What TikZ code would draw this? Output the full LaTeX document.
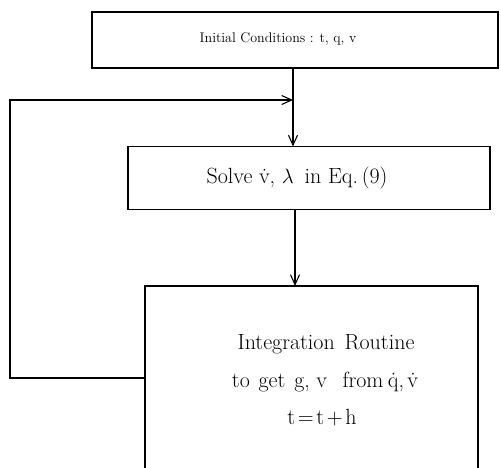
\documentclass[tikz,border=0pt]{standalone}
\usetikzlibrary{arrows.meta}
\begin{document}
\begin{tikzpicture}[x=1pt,y=-1pt,
  box/.style={draw,line width=1.3pt,inner sep=0pt,outer sep=0pt},
  lbls/.style={inner sep=0pt,font=\fontsize{14}{16}\selectfont},
  lbl/.style={inner sep=0pt,font=\fontsize{22}{26}\selectfont},
  conn/.style={line width=1.1pt},
  arr/.style={conn,-{Straight Barb[length=10pt,width=9pt,line width=1.1pt]}}]
\useasboundingbox (0,0) rectangle (501,467);
\clip (0,0) rectangle (501,467);
% boxes
\node[box,minimum width=406pt,minimum height=56pt] (init) at (295,40) {};
\node[box,minimum width=362pt,minimum height=63pt] (solve) at (309,178) {};
\node[box,minimum width=333pt,minimum height=200pt] (integ) at (311.5,386) {};
% labels
\node[lbls] (tinit) at (278,39) {Initial Conditions : t, q, v};
\node[lbl] (tsolve) at (297,178) {Solve \.v, $\lambda$\hspace{0.5em}in Eq.\,(9)};
\node[lbl] (tint1) at (326,344) {Integration\hspace{0.45em}Routine};
\node[lbl] (tint2) at (325,382) {to\hspace{0.4em}get\hspace{0.4em}g,\hspace{0.3em}v\hspace{0.7em}from\hspace{0.2em}\.q,\hspace{0.15em}\.v};
\node[lbl] (tint3) at (322,418) {t\hspace{0.12em}=\hspace{0.12em}t\hspace{0.12em}+\hspace{0.12em}h};
% coordinates
\coordinate (a1) at (293,68);
\coordinate (a2) at (293,146.5);
\coordinate (j) at (293,100);
\coordinate (b1) at (295,209.5);
\coordinate (b2) at (295,286);
\coordinate (l1) at (145,378);
\coordinate (l2) at (10,378);
\coordinate (l3) at (10,100);
% connectors
\draw[arr] (a1) -- (a2);
\draw[arr] (b1) -- (b2);
\draw[arr] (l1) -- (l2) -- (l3) -- (j);
\end{tikzpicture}
\end{document}
